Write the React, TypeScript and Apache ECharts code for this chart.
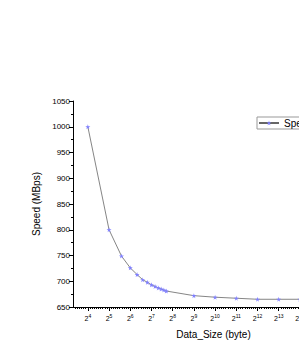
import React, { useEffect, useRef } from "react";
import * as echarts from "echarts";

const dataSizes = [16, 32, 48, 64, 80, 96, 112, 128, 144, 160, 176, 192, 208, 512, 1024, 2048, 4096, 8192, 16384];
const speeds = [1000, 800, 749, 726, 713, 703, 698, 693, 690, 687, 685, 683, 681, 672, 669, 667, 665, 665, 665];
const xExponents = [4, 5, 6, 7, 8, 9, 10, 11, 12, 13, 14, 15, 16];
const seriesName = "Speed";

const X_MIN = 3.3;
const X_MAX = 16.55;

export default function App() {
  const ref = useRef<HTMLDivElement>(null);
  useEffect(() => {
    if (!ref.current) return;
    const chart = echarts.init(ref.current, null, { renderer: "svg" });
    const minorVals: number[] = [];
    for (let e = 3; e <= 17; e++) {
      for (let k = 1; k < 10; k++) {
        const v = e + k / 10;
        if (v > X_MIN && v < X_MAX) minorVals.push(v);
      }
    }
    const font = "Liberation Sans";
    chart.setOption({
      animation: false,
      backgroundColor: "#ffffff",
      textStyle: { fontFamily: font },
      grid: { left: 73, top: 101, width: 281, height: 208, containLabel: false },
      legend: {
        left: 257,
        top: 117,
        padding: [1, 3, 1, 1],
        borderColor: "#999",
        borderWidth: 1,
        borderRadius: 0,
        itemWidth: 20,
        itemHeight: 6,
        itemGap: 4,
        textStyle: { fontSize: 10, color: "#000", fontFamily: font },
        data: [seriesName],
      },
      xAxis: [
        {
          type: "value",
          min: X_MIN,
          max: X_MAX,
          name: "Data_Size (byte)",
          nameLocation: "middle",
          nameGap: 22,
          nameTextStyle: { fontSize: 10, color: "#000", fontFamily: font },
          axisLine: { show: true, lineStyle: { color: "#000", width: 1 } },
          axisTick: { show: true, customValues: xExponents, length: 4, inside: false, lineStyle: { color: "#000" } },
          axisLabel: {
            customValues: xExponents,
            margin: 6,
            formatter: (v: number) => `{b|2}{s|${v}}`,
            rich: {
              b: { fontSize: 7, color: "#000", fontFamily: font },
              s: { fontSize: 5, color: "#000", fontFamily: font, padding: [0, 0, 5, 0] },
            },
          },
          splitLine: { show: false },
        },
        {
          type: "value",
          min: X_MIN,
          max: X_MAX,
          position: "bottom",
          axisLine: { show: false },
          axisTick: { show: true, customValues: minorVals, length: 2, lineStyle: { color: "#000" } },
          axisLabel: { show: false },
          splitLine: { show: false },
        },
      ],
      yAxis: {
        type: "value",
        min: 650,
        max: 1050,
        interval: 50,
        name: "Speed (MBps)",
        nameLocation: "middle",
        nameGap: 30,
        nameTextStyle: { fontSize: 10, color: "#000", fontFamily: font },
        axisLine: { show: true, lineStyle: { color: "#000", width: 1 } },
        axisTick: { show: true, length: 4, lineStyle: { color: "#000" } },
        minorTick: { show: true, splitNumber: 2, length: 2, lineStyle: { color: "#000" } },
        axisLabel: { fontSize: 8, color: "#000", margin: 3, fontFamily: font, formatter: (v: number) => String(v) },
        splitLine: { show: false },
      },
      series: [
        {
          name: seriesName,
          type: "line",
          xAxisIndex: 0,
          data: dataSizes.map((s, i) => [Math.log2(s), speeds[i]]),
          symbol: "path://M50,0 L61,35 L98,35 L68,57 L79,91 L50,70 L21,91 L32,57 L2,35 L39,35 Z",
          symbolSize: 5,
          showSymbol: true,
          lineStyle: { color: "#666", width: 0.8 },
          itemStyle: { color: "#8080ff" },
        },
      ],
    });
    return () => chart.dispose();
  }, []);
  return (
    <div style={{ position: "absolute", left: 0, top: 0, width: 299, height: 344, overflow: "hidden" }}>
      <div ref={ref} style={{ width: 380, height: 344 }} />
    </div>
  );
}
